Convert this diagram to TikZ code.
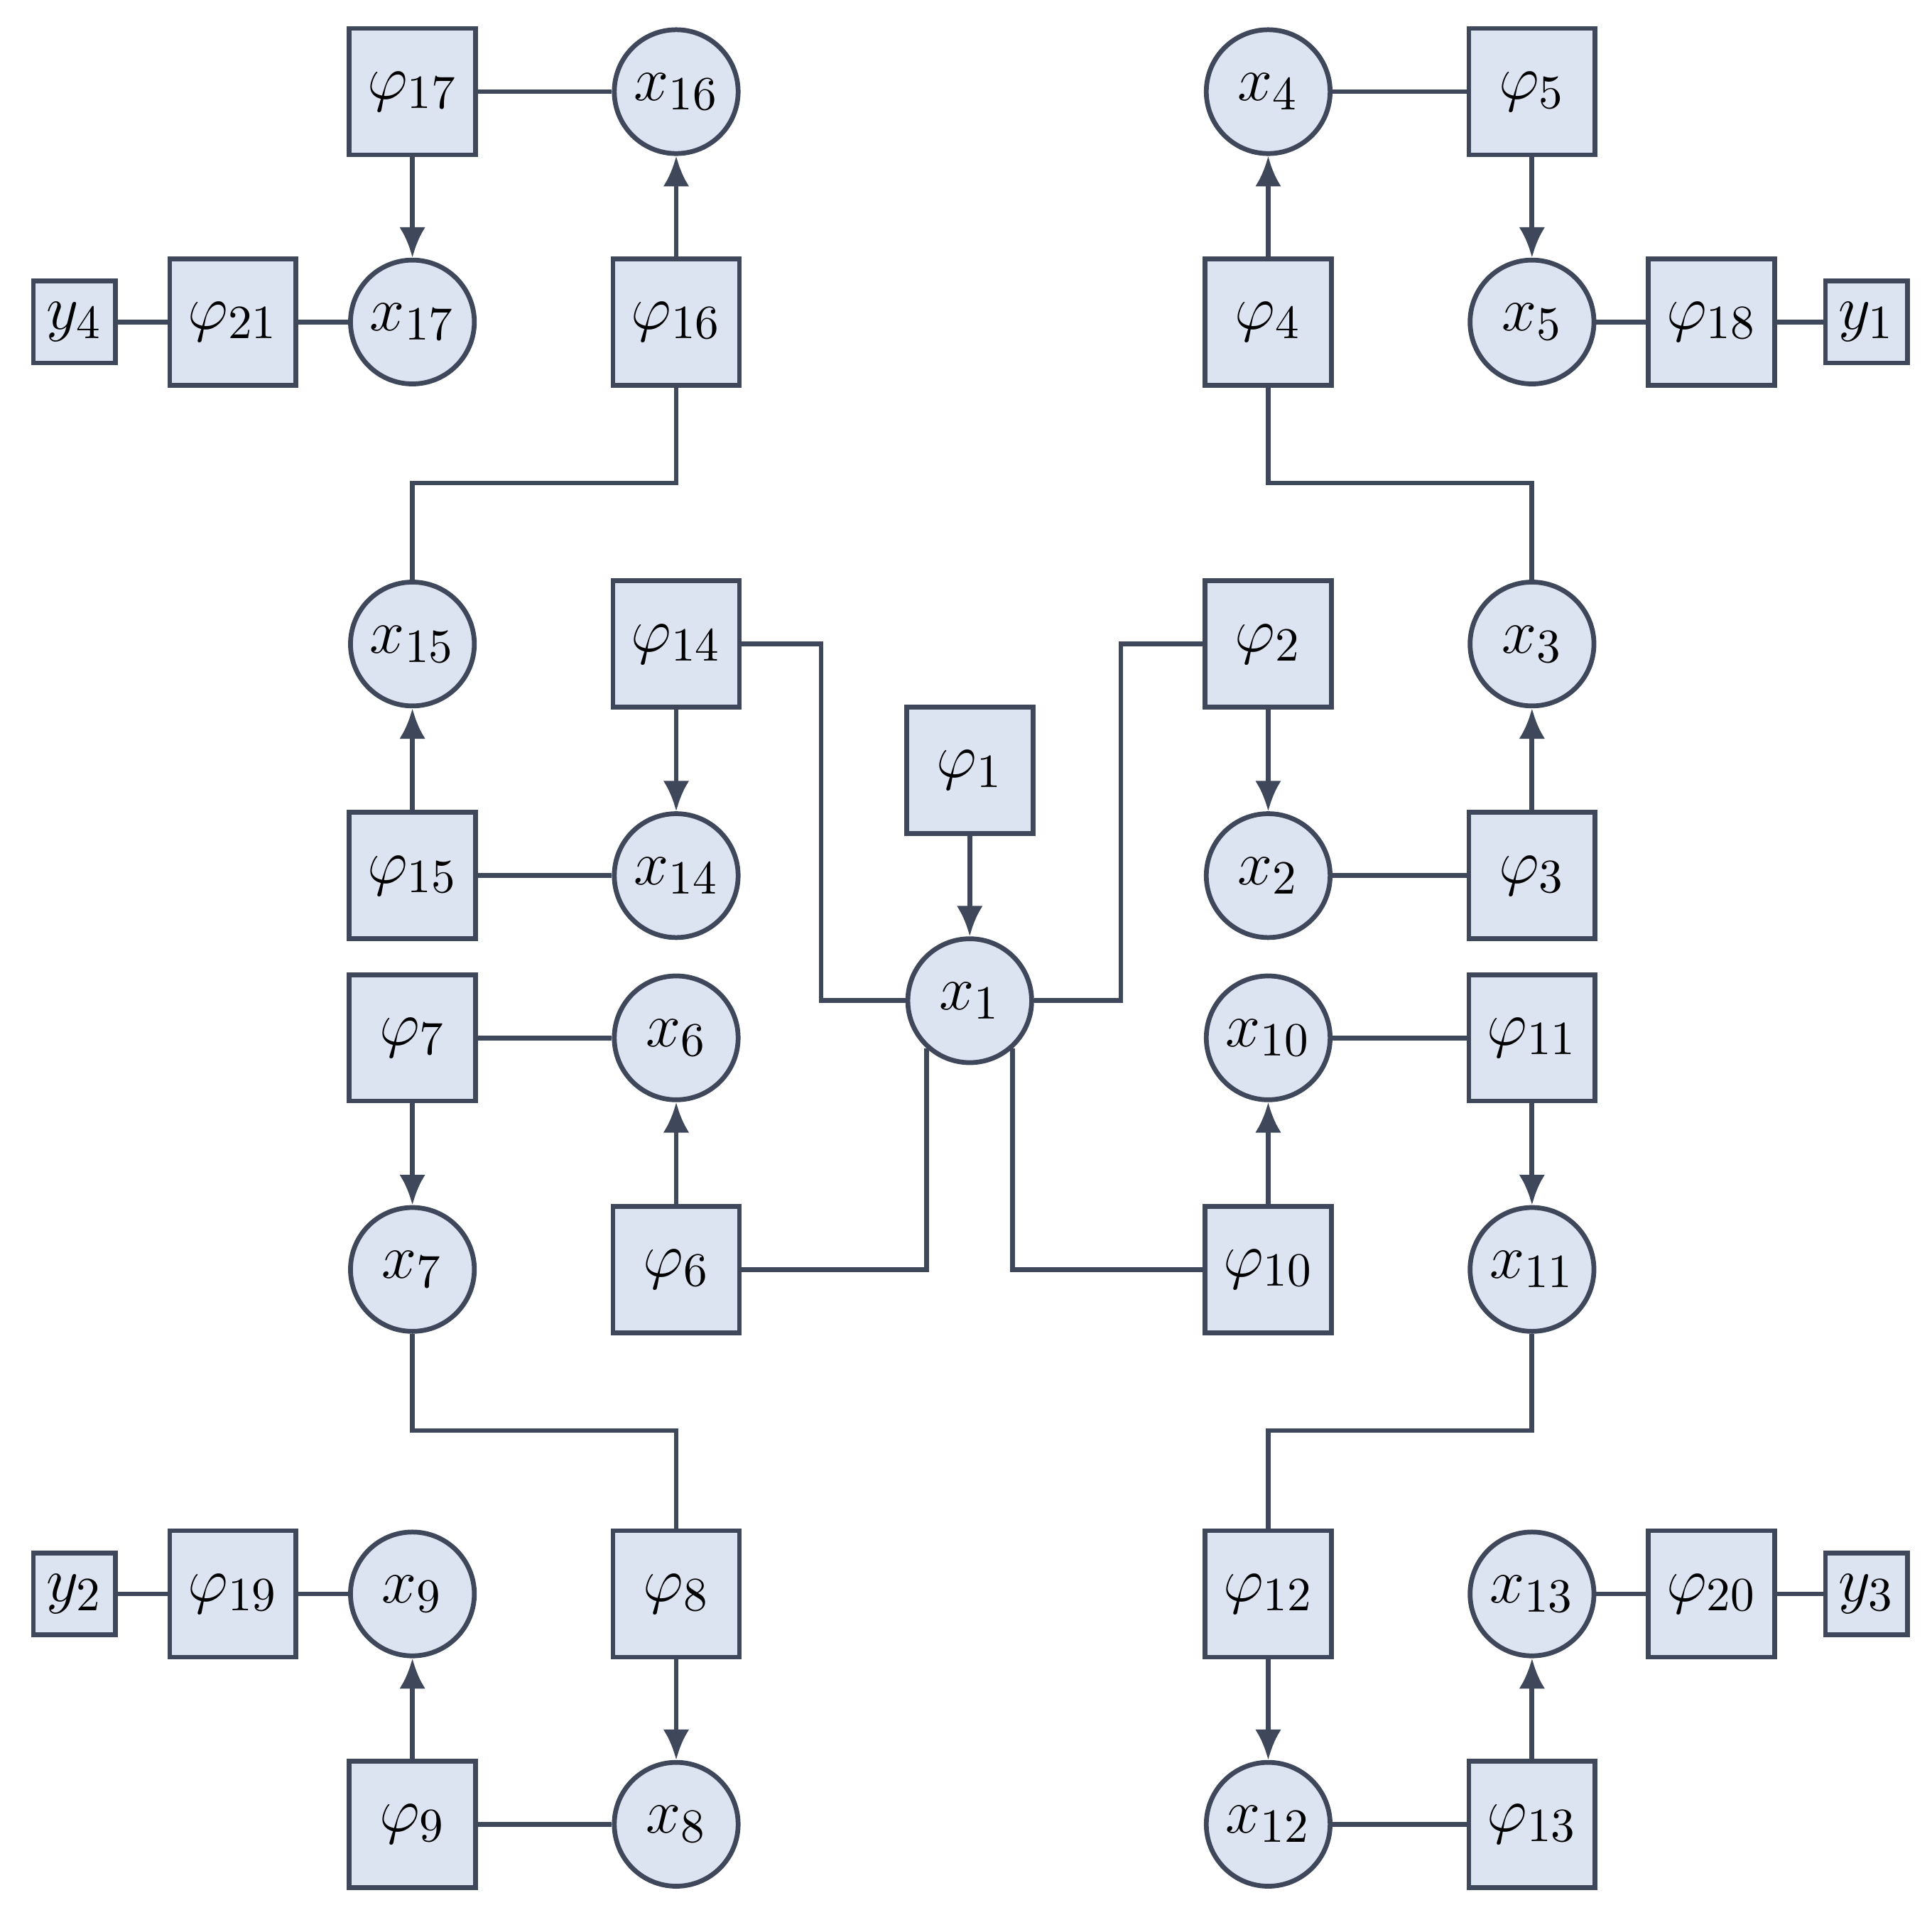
\documentclass[tikz,border=0pt]{standalone}
\usepackage{amsmath}
\usetikzlibrary{arrows.meta}
\usetikzlibrary{positioning}
\definecolor{nodefill}{RGB}{220,228,242}
\definecolor{edgecol}{RGB}{62,72,90}
\tikzset{
  fac/.style={draw=edgecol,fill=nodefill,line width=1.1pt,minimum size=1.02cm,inner sep=0pt,font=\fontsize{15}{18}\selectfont},
  var/.style={draw=edgecol,fill=nodefill,line width=1.1pt,circle,minimum size=1.0cm,inner sep=0pt,font=\fontsize{15}{18}\selectfont},
  obs/.style={fac,minimum size=0.66cm},
  ln/.style={draw=edgecol,line width=1.1pt},
  ar/.style={ln,-{Latex[length=7pt,width=6pt]}}
}
\begin{document}
\begin{tikzpicture}[x=1cm,y=-1cm]
  \useasboundingbox (0,0) rectangle (15.6,15.42);
  % upper left
  \node[fac] (p17) at (3.33,0.74) {$\varphi_{17}$};
  \node[var] (x16) at (5.46,0.74) {$x_{16}$};
  \node[obs] (y4) at (0.60,2.60) {$y_4$};
  \node[fac] (p21) at (1.88,2.60) {$\varphi_{21}$};
  \node[var] (x17) at (3.33,2.60) {$x_{17}$};
  \node[fac] (p16) at (5.46,2.60) {$\varphi_{16}$};
  \node[var] (x15) at (3.33,5.20) {$x_{15}$};
  \node[fac] (p14) at (5.46,5.20) {$\varphi_{14}$};
  \node[fac] (p15) at (3.33,7.07) {$\varphi_{15}$};
  \node[var] (x14) at (5.46,7.07) {$x_{14}$};
  % centre
  \node[fac] (p1) at (7.83,6.22) {$\varphi_1$};
  \node[var] (x1) at (7.83,8.08) {$x_1$};
  % lower left
  \node[fac] (p7) at (3.33,8.38) {$\varphi_7$};
  \node[var] (x6) at (5.46,8.38) {$x_6$};
  \node[var] (x7) at (3.33,10.25) {$x_7$};
  \node[fac] (p6) at (5.46,10.25) {$\varphi_6$};
  \node[obs] (y2) at (0.60,12.87) {$y_2$};
  \node[fac] (p19) at (1.88,12.87) {$\varphi_{19}$};
  \node[var] (x9) at (3.33,12.87) {$x_9$};
  \node[fac] (p8) at (5.46,12.87) {$\varphi_8$};
  \node[fac] (p9) at (3.33,14.73) {$\varphi_9$};
  \node[var] (x8) at (5.46,14.73) {$x_8$};
  % upper right
  \node[var] (x4) at (10.24,0.74) {$x_4$};
  \node[fac] (p5) at (12.37,0.74) {$\varphi_5$};
  \node[fac] (p4) at (10.24,2.60) {$\varphi_4$};
  \node[var] (x5) at (12.37,2.60) {$x_5$};
  \node[fac] (p18) at (13.82,2.60) {$\varphi_{18}$};
  \node[obs] (y1) at (15.07,2.60) {$y_1$};
  \node[fac] (p2) at (10.24,5.20) {$\varphi_2$};
  \node[var] (x3) at (12.37,5.20) {$x_3$};
  \node[var] (x2) at (10.24,7.07) {$x_2$};
  \node[fac] (p3) at (12.37,7.07) {$\varphi_3$};
  % lower right
  \node[var] (x10) at (10.24,8.38) {$x_{10}$};
  \node[fac] (p11) at (12.37,8.38) {$\varphi_{11}$};
  \node[fac] (p10) at (10.24,10.25) {$\varphi_{10}$};
  \node[var] (x11) at (12.37,10.25) {$x_{11}$};
  \node[fac] (p12) at (10.24,12.87) {$\varphi_{12}$};
  \node[var] (x13) at (12.37,12.87) {$x_{13}$};
  \node[fac] (p20) at (13.82,12.87) {$\varphi_{20}$};
  \node[obs] (y3) at (15.07,12.87) {$y_3$};
  \node[var] (x12) at (10.24,14.73) {$x_{12}$};
  \node[fac] (p13) at (12.37,14.73) {$\varphi_{13}$};

  \draw[ln] (p17)--(x16) (y4)--(p21)--(x17) (p15)--(x14) (p7)--(x6) (y2)--(p19)--(x9) (p9)--(x8);
  \draw[ln] (x4)--(p5) (x5)--(p18)--(y1) (x2)--(p3) (x10)--(p11) (x13)--(p20)--(y3) (x12)--(p13);
  \draw[ar] (p17)--(x17); \draw[ar] (p16)--(x16); \draw[ar] (p15)--(x15); \draw[ar] (p14)--(x14);
  \draw[ar] (p1)--(x1); \draw[ar] (p6)--(x6); \draw[ar] (p7)--(x7); \draw[ar] (p8)--(x8); \draw[ar] (p9)--(x9);
  \draw[ar] (p4)--(x4); \draw[ar] (p5)--(x5); \draw[ar] (p2)--(x2); \draw[ar] (p3)--(x3);
  \draw[ar] (p10)--(x10); \draw[ar] (p11)--(x11); \draw[ar] (p12)--(x12); \draw[ar] (p13)--(x13);

  \draw[ln] (p16.south) |- (4.4,3.90) -| (x15.north);
  \draw[ln] (x3.north) |- (11.3,3.90) -| (p4.south);
  \draw[ln] (x7.south) |- (4.4,11.55) -| (p8.north);
  \draw[ln] (x11.south) |- (11.3,11.55) -| (p12.north);
  \draw[ln] (p14.east) -| (6.63,8.08) -- (x1.west);
  \draw[ln] (x1.east) -| (9.05,6.6) |- (p2.west);
  \draw[ln] (x1.-132) -- (x1.-132 |- p6) -- (p6.east);
  \draw[ln] (x1.-48) -- (x1.-48 |- p10) -- (p10.west);
\end{tikzpicture}
\end{document}
